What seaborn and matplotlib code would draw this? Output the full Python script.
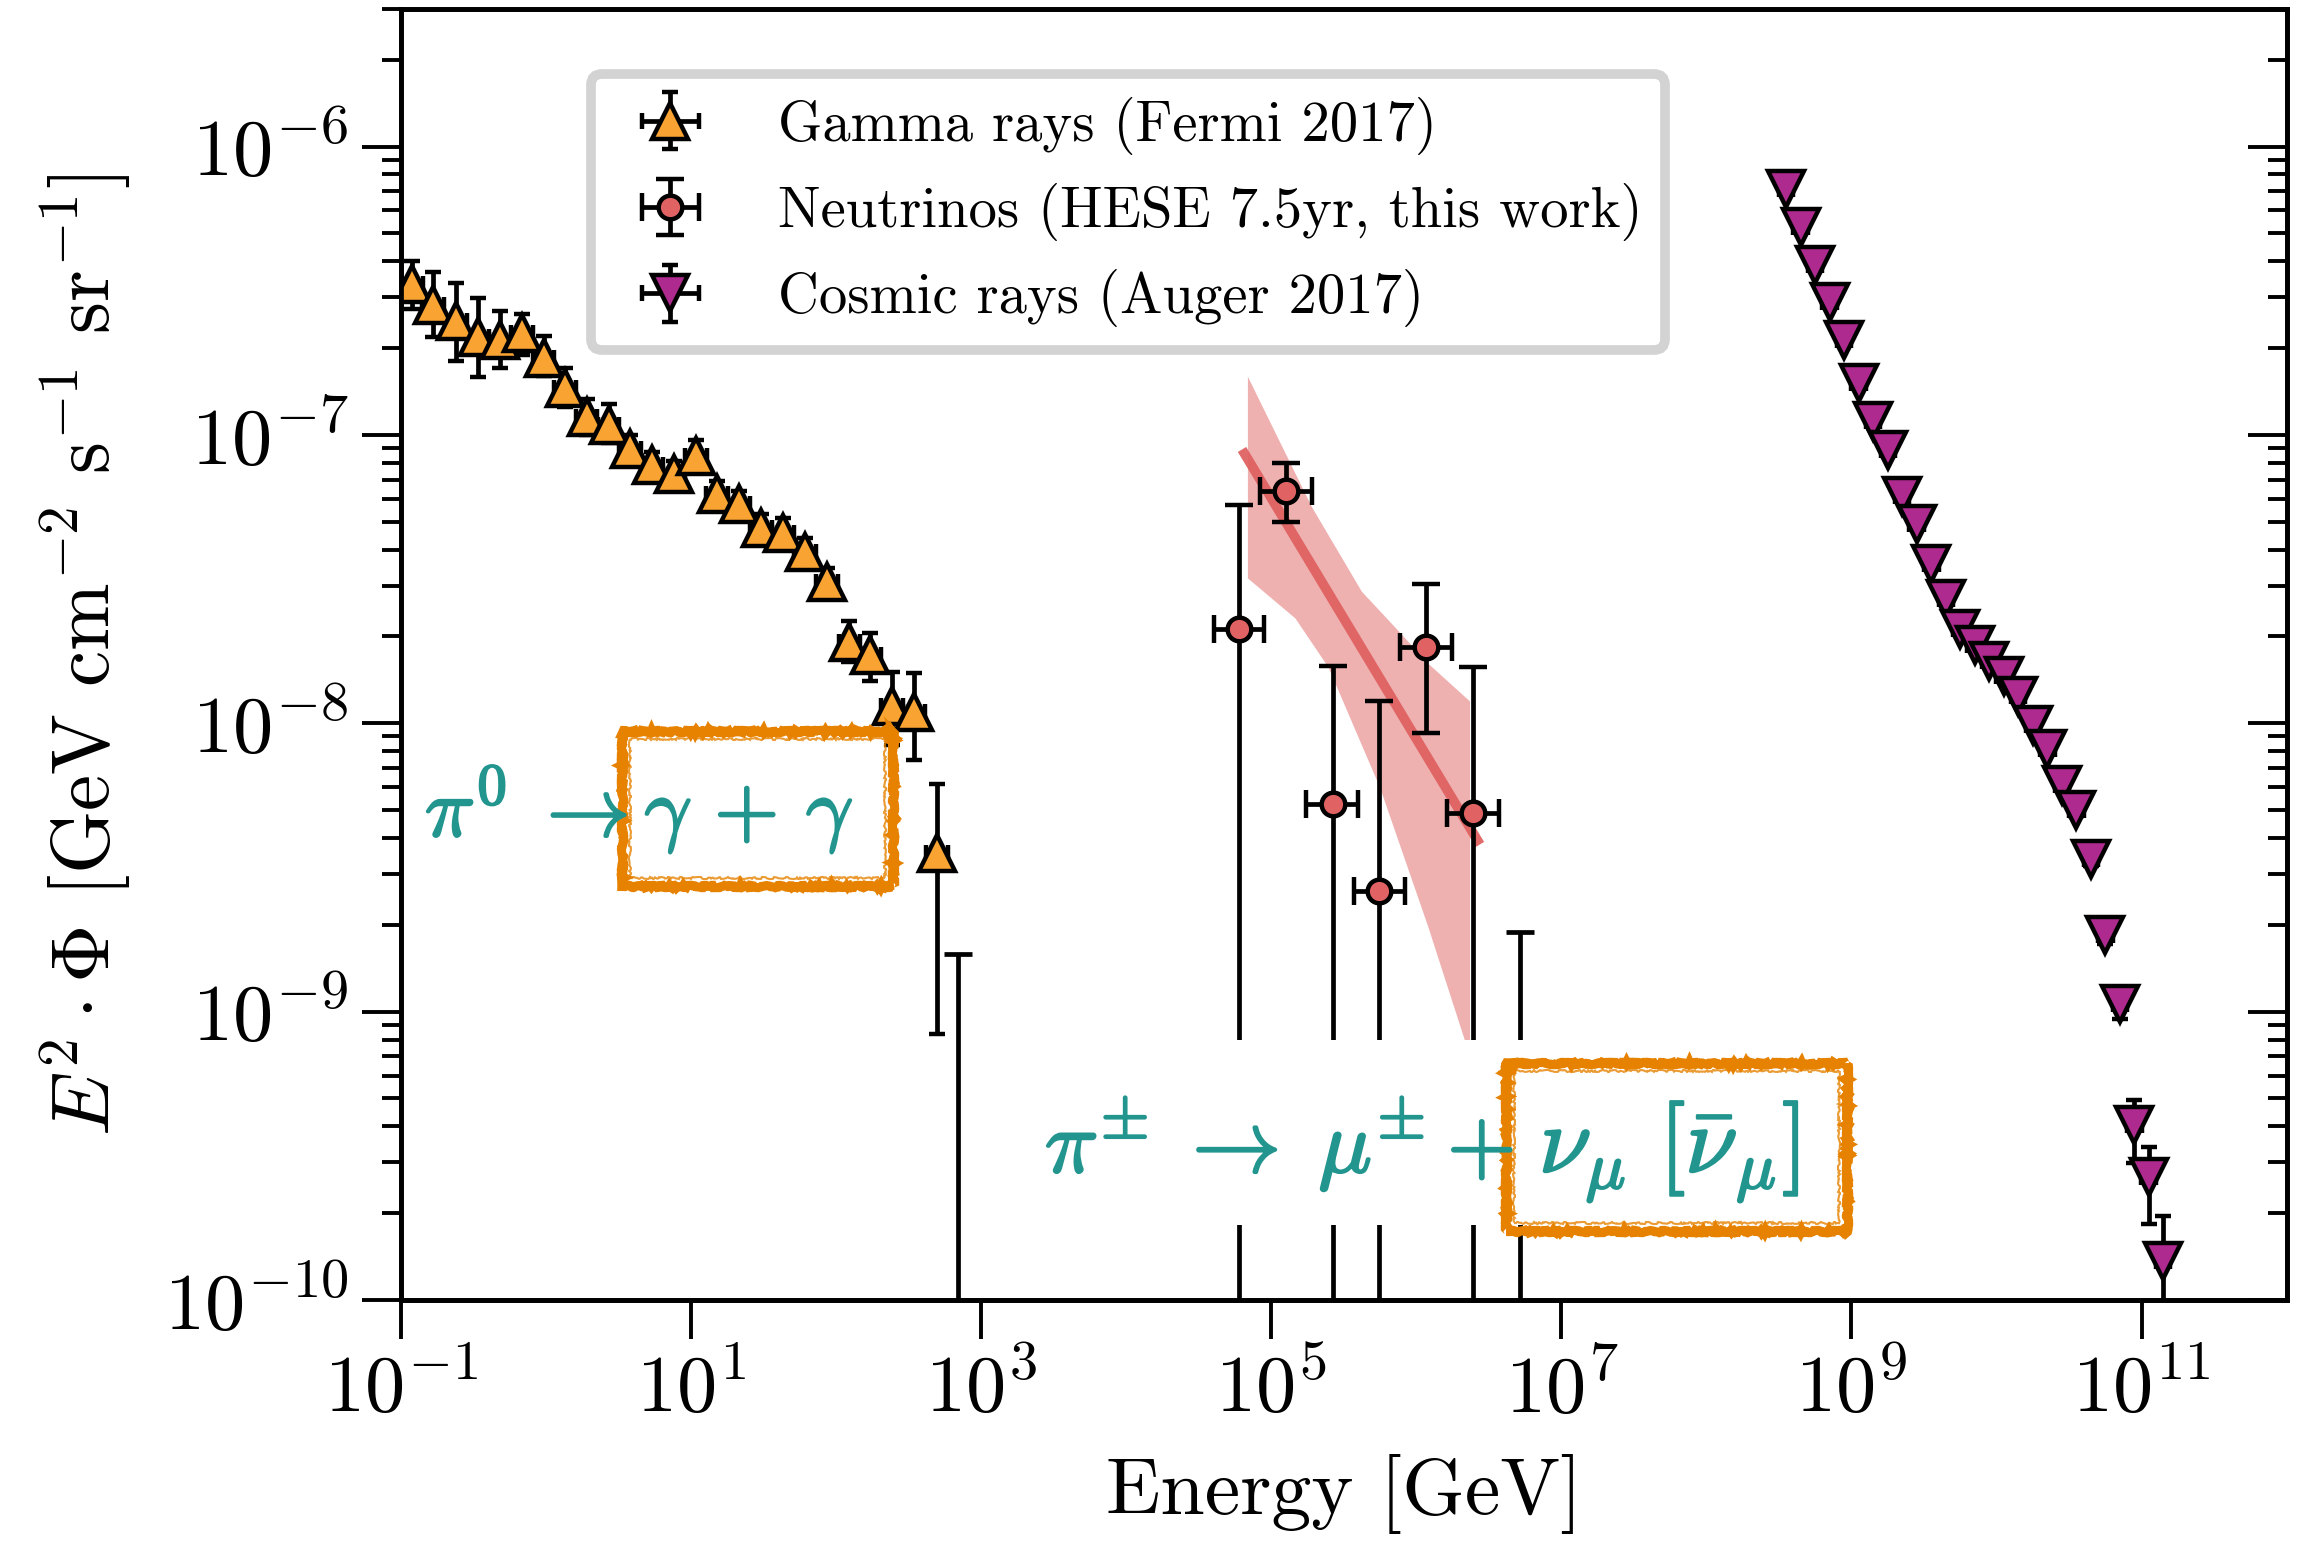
import matplotlib
matplotlib.use("Agg")
import numpy as np
import matplotlib.pyplot as plt
import matplotlib.patheffects as pe
from matplotlib.patches import Rectangle
from matplotlib.ticker import NullLocator, LogLocator, NullFormatter
import seaborn as sns

# ---------------- data ----------------
# Gamma rays (Fermi 2017)
gamma_E = [0.1205, 0.168, 0.242, 0.343, 0.486, 0.688, 0.966, 1.36, 1.91, 2.71,
           3.83, 5.41, 7.69, 10.9, 15.2, 21.5, 30.6, 43.2, 61.6, 86.9,
           124.0, 173.0, 244.0, 347.0, 496.0]
gamma_flux = [3.34e-7, 2.82e-7, 2.48e-7, 2.19e-7, 2.13e-7, 2.26e-7, 1.85e-7, 1.45e-7, 1.15e-7, 1.08e-7,
              8.9e-8, 7.85e-8, 7.3e-8, 8.45e-8, 6.22e-8, 5.78e-8, 4.75e-8, 4.58e-8, 3.91e-8, 3.08e-8,
              1.92e-8, 1.72e-8, 1.15e-8, 1.09e-8, 3.56e-9]
gamma_hi = [4.02e-7, 3.68e-7, 3.35e-7, 2.98e-7, 2.69e-7, 2.62e-7, 2.21e-7, 1.71e-7, 1.33e-7, 1.28e-7,
            1.0e-7, 8.7e-8, 8.1e-8, 9.6e-8, 6.9e-8, 6.4e-8, 5.3e-8, 5.15e-8, 4.4e-8, 3.45e-8,
            2.27e-8, 2.05e-8, 1.51e-8, 1.49e-8, 6.18e-9]
gamma_lo = [2.74e-7, 2.19e-7, 1.81e-7, 1.59e-7, 1.71e-7, 1.90e-7, 1.6e-7, 1.25e-7, 1.0e-7, 9.4e-8,
            7.9e-8, 7.0e-8, 6.5e-8, 7.5e-8, 5.55e-8, 5.15e-8, 4.2e-8, 4.05e-8, 3.45e-8, 2.72e-8,
            1.63e-8, 1.40e-8, 8.39e-9, 7.48e-9, 8.36e-10]
gamma_ul_E = [698.0]
gamma_ul_flux = [1.59e-9]

# Neutrinos (HESE 7.5 yr)
nu_E = [5.97e4, 1.27e5, 2.65e5, 5.58e5, 1.17e6, 2.45e6]
nu_E_lo = [4.07e4, 8.43e4, 1.75e5, 3.74e5, 7.78e5, 1.64e6]
nu_E_hi = [8.97e4, 1.91e5, 4.00e5, 8.39e5, 1.77e6, 3.72e6]
nu_flux = [2.13e-8, 6.38e-8, 5.24e-9, 2.63e-9, 1.84e-8, 4.88e-9]
nu_hi = [5.73e-8, 8.02e-8, 1.58e-8, 1.19e-8, 3.05e-8, 1.57e-8]
nu_lo = [1e-13, 5.0e-8, 1e-13, 1e-13, 9.25e-9, 1e-13]
nu_ul_E = [5.19e6]
nu_ul_flux = [1.89e-9]

# best-fit power law and its uncertainty band
fit_E = [6.3e4, 2.75e6]
fit_flux = [8.9e-8, 3.8e-9]
band_up_E = [6.92e4, 1.91e5, 4.22e5, 7.16e5, 1.21e6, 2.35e6]
band_up_flux = [1.59e-7, 5.62e-8, 2.86e-8, 2.15e-8, 1.61e-8, 1.19e-8]
band_dn_E = [6.92e4, 1.47e5, 2.49e5, 5.65e5, 1.21e6, 2.35e6]
band_dn_flux = [3.18e-8, 2.31e-8, 1.56e-8, 5.96e-9, 1.97e-9, 7.0e-10]

# Cosmic rays (Auger 2017)
cr_E = [3.55e8, 4.47e8, 5.62e8, 7.08e8, 8.91e8, 1.12e9, 1.41e9, 1.78e9, 2.24e9, 2.82e9,
        3.55e9, 4.47e9, 5.62e9, 7.08e9, 8.91e9, 1.12e10, 1.41e10, 1.78e10, 2.24e10, 2.82e10,
        3.55e10, 4.47e10, 5.62e10, 7.08e10, 8.91e10, 1.12e11, 1.41e11]
cr_flux = [7.11e-7, 5.25e-7, 3.88e-7, 2.88e-7, 2.14e-7, 1.51e-7, 1.12e-7, 8.89e-8, 6.13e-8, 4.90e-8,
           3.56e-8, 2.69e-8, 2.12e-8, 1.87e-8, 1.65e-8, 1.46e-8, 1.24e-8, 9.85e-9, 8.14e-9, 6.12e-9,
           5.0e-9, 3.39e-9, 1.85e-9, 1.06e-9, 4.06e-10, 2.66e-10, 1.37e-10]
cr_hi = [7.3e-7, 5.4e-7, 4.0e-7, 2.96e-7, 2.2e-7, 1.55e-7, 1.15e-7, 9.1e-8, 6.3e-8, 5.03e-8,
         3.65e-8, 2.76e-8, 2.18e-8, 1.92e-8, 1.70e-8, 1.50e-8, 1.28e-8, 1.02e-8, 8.45e-9, 6.4e-9,
         5.25e-9, 3.6e-9, 2.0e-9, 1.15e-9, 4.94e-10, 3.4e-10, 1.95e-10]
cr_lo = [6.9e-7, 5.1e-7, 3.77e-7, 2.8e-7, 2.08e-7, 1.47e-7, 1.09e-7, 8.67e-8, 5.96e-8, 4.77e-8,
         3.47e-8, 2.62e-8, 2.06e-8, 1.82e-8, 1.60e-8, 1.42e-8, 1.20e-8, 9.5e-9, 7.85e-9, 5.85e-9,
         4.75e-9, 3.2e-9, 1.72e-9, 9.4e-10, 2.99e-10, 1.84e-10, 1e-13]

x_ticks = [1e-1, 1e1, 1e3, 1e5, 1e7, 1e9, 1e11]

labels = ["Gamma rays (Fermi 2017)", "Neutrinos (HESE 7.5yr, this work)", "Cosmic rays (Auger 2017)"]

# ---------------- style ----------------
sns.set_style("ticks")
plt.rcParams["font.family"] = ["cmr10", "DejaVu Serif"]
plt.rcParams["mathtext.fontset"] = "cm"
plt.rcParams["axes.formatter.use_mathtext"] = True
plt.rcParams["axes.unicode_minus"] = True
for k in ["text.color", "axes.labelcolor", "xtick.color", "ytick.color", "axes.edgecolor"]:
    plt.rcParams[k] = "black"

c_gamma = "#F9A332"
c_nu = "#E06262"
c_cr = "#AE2A8E"
c_teal = "#23958F"
c_box = "#E68200"

fig = plt.figure(figsize=(23, 15.41), dpi=100)
ax = fig.add_axes([0.1742, 0.1564, 0.8200, 0.8378])
ax.set_xscale("log")
ax.set_yscale("log")
ax.set_xlim(1e-1, 1e12)
ax.set_ylim(1e-10, 3e-6)

def asym(y, lo, hi):
    y = np.asarray(y); lo = np.asarray(lo); hi = np.asarray(hi)
    return np.vstack([y - lo, hi - y])

ELW = 3.4
eb_kw = dict(ecolor="black", elinewidth=ELW, capthick=ELW, mec="black", linestyle="none")

# band + fit line
ax.fill(list(band_up_E) + list(band_dn_E[::-1]),
        list(band_up_flux) + list(band_dn_flux[::-1]),
        color=c_nu, alpha=0.5, lw=0, zorder=1)
sns.lineplot(x=fit_E, y=fit_flux, ax=ax, color=c_nu, lw=7, alpha=0.95, zorder=2,
             solid_capstyle="butt", legend=False)

# gamma rays
g_E = np.asarray(gamma_E)
h_gamma = ax.errorbar(gamma_E, gamma_flux, yerr=asym(gamma_flux, gamma_lo, gamma_hi),
                      xerr=[g_E - g_E / 10**0.075, g_E * 10**0.075 - g_E],
                      fmt="^", ms=26, mew=3.2, mfc=c_gamma, capsize=6, zorder=3, **eb_kw)
ax.errorbar(gamma_ul_E, gamma_ul_flux,
            yerr=[[gamma_ul_flux[0] - 1e-13], [0]], fmt="none",
            ecolor="black", elinewidth=ELW, capthick=ELW, capsize=10, zorder=3)

# neutrinos
n_E = np.asarray(nu_E)
h_nu = ax.errorbar(nu_E, nu_flux, yerr=asym(nu_flux, nu_lo, nu_hi),
                   xerr=[n_E - np.asarray(nu_E_lo), np.asarray(nu_E_hi) - n_E],
                   fmt="o", ms=17, mew=3.2, mfc=c_nu, capsize=10, zorder=3, **eb_kw)
ax.errorbar(nu_ul_E, nu_ul_flux,
            yerr=[[nu_ul_flux[0] - 1e-13], [0]], fmt="none",
            ecolor="black", elinewidth=ELW, capthick=ELW, capsize=10, zorder=3)

# cosmic rays
c_E = np.asarray(cr_E)
h_cr = ax.errorbar(cr_E, cr_flux, yerr=asym(cr_flux, cr_lo, cr_hi),
                   xerr=[c_E - c_E / 10**0.05, c_E * 10**0.05 - c_E],
                   fmt="v", ms=26, mew=3.2, mfc=c_cr, capsize=6, zorder=3, **eb_kw)

# ---------------- axes styling ----------------
ax.set_xticks(x_ticks)
ax.xaxis.set_minor_locator(NullLocator())
ax.yaxis.set_major_locator(LogLocator(base=10, numticks=20))
ax.yaxis.set_minor_locator(LogLocator(base=10, subs=np.arange(2, 10), numticks=20))
ax.yaxis.set_minor_formatter(NullFormatter())
for s in ax.spines.values():
    s.set_linewidth(3.4)
    s.set_color("black")
ax.tick_params(axis="both", which="major", direction="out", length=28, width=2.8,
               labelsize=58, colors="black", pad=10)
ax.tick_params(axis="y", which="minor", direction="out", length=14, width=2.8)
ax.tick_params(top=False, right=False)

ax2 = ax.twinx()
ax2.set_yscale("log")
ax2.set_ylim(ax.get_ylim())
ax2.yaxis.set_major_locator(LogLocator(base=10, numticks=20))
ax2.yaxis.set_minor_locator(LogLocator(base=10, subs=np.arange(2, 10), numticks=20))
ax2.tick_params(axis="y", which="major", direction="in", length=28, width=2.8,
                labelright=False, colors="black")
ax2.tick_params(axis="y", which="minor", direction="in", length=14, width=2.8,
                labelright=False, colors="black")
ax2.yaxis.set_minor_formatter(NullFormatter())
for s in ax2.spines.values():
    s.set_linewidth(3.4)
    s.set_color("black")

ax.set_xlabel("Energy [GeV]", fontsize=57.5, labelpad=18)
ax.set_ylabel(r"$E^2\cdot\Phi$ [GeV cm$^{-2}$ s$^{-1}$ sr$^{-1}$]", fontsize=58.5, labelpad=22)

leg = ax.legend([h_gamma, h_nu, h_cr], labels, loc="upper left",
                bbox_to_anchor=(0.1009, 0.9497), borderaxespad=0, fontsize=40.8,
                frameon=True, fancybox=True, framealpha=1.0, edgecolor="#D3D3D3",
                borderpad=0.4, labelspacing=0.5, handletextpad=0.9, handlelength=2.0)
leg.get_frame().set_linewidth(7)
leg.set_zorder(10)

# ---------------- annotations ----------------
stroke = [pe.withStroke(linewidth=1.6, foreground=c_teal)]
tk = dict(transform=ax.transAxes, color=c_teal, zorder=8, path_effects=stroke)

ax.text(0.0129, 0.3594, r"$\pi^0 \;\rightarrow$", ha="left", va="baseline", fontsize=60, **tk)
ax.text(0.1846, 0.3594, r"$\gamma \,+\, \gamma$", ha="center", va="baseline", fontsize=60, **tk)

ax.add_patch(Rectangle((0.333, 0.0581), 0.435, 0.1433, transform=ax.transAxes,
                       facecolor="white", edgecolor="none", zorder=5))
ax.text(0.3416, 0.0991, r"$\pi^{\pm} \;\rightarrow\; \mu^{\pm} +$", ha="left", va="baseline",
        fontsize=64, **tk)
ax.text(0.6725, 0.0991, r"$\nu_\mu\ [\bar{\nu}_\mu]$", ha="center", va="baseline",
        fontsize=68, **tk)

def sketch_box(x0, y0, w, h):
    r1 = Rectangle((x0, y0), w, h, transform=ax.transAxes, fill=False,
                   edgecolor=c_box, lw=6.5, zorder=7, joinstyle="miter")
    r1.set_sketch_params(scale=1.2, length=12, randomness=20)
    ax.add_patch(r1)
    r2 = Rectangle((x0 + 0.004, y0 + 0.006), w - 0.008, h - 0.012, transform=ax.transAxes,
                   fill=False, edgecolor=c_box, lw=1.5, zorder=7, alpha=0.8)
    r2.set_sketch_params(scale=1.0, length=10, randomness=20)
    ax.add_patch(r2)

sketch_box(0.1176, 0.3207, 0.1434, 0.1201)
sketch_box(0.5861, 0.0534, 0.1808, 0.1301)

fig.savefig("out.png", dpi=100, facecolor="white")
